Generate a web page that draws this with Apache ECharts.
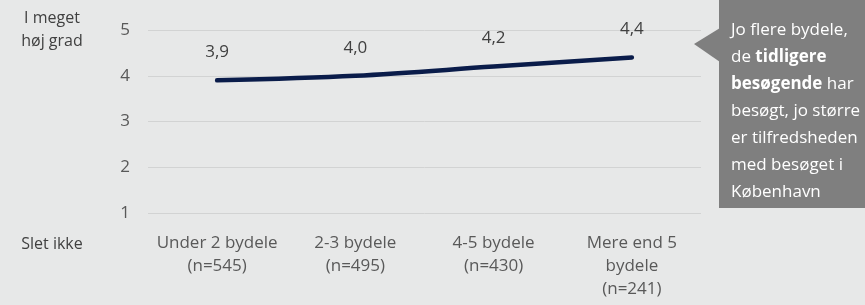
<!DOCTYPE html>
<html><head><meta charset="utf-8">
<script src="https://cdn.jsdelivr.net/npm/echarts@6/dist/echarts.min.js"></script>
<style>html,body{margin:0;padding:0;background:#e7e8e8;}#c{width:865px;height:305px;}</style>
</head><body><div id="c"></div>
<script>
const categories = ['Under 2 bydele\n(n=545)', '2-3 bydele\n(n=495)', '4-5 bydele\n(n=430)', 'Mere end 5\nbydele\n(n=241)'];
const values = [3.9, 4.0, 4.2, 4.4];
const yTicks = [1, 2, 3, 4, 5];
const topLabel = 'I meget\nhøj grad';
const bottomLabel = 'Slet ikke';
const FONT = '"Open Sans", sans-serif';
const chart = echarts.init(document.getElementById('c'));
chart.setOption({
  backgroundColor: '#e7e8e8',
  animation: false,
  grid: {left: 148, right: 164, top: 30, bottom: 92},
  xAxis: {
    type: 'category', data: categories, boundaryGap: true,
    axisLine: {show: false}, axisTick: {show: false},
    axisLabel: {color: '#595959', fontSize: 17, lineHeight: 23, margin: 19, fontFamily: FONT, interval: 0}
  },
  yAxis: {
    type: 'value', min: yTicks[0], max: yTicks[yTicks.length - 1], interval: 1,
    axisLine: {show: false}, axisTick: {show: false},
    axisLabel: {color: '#595959', fontSize: 17, margin: 18, fontFamily: FONT},
    splitLine: {lineStyle: {color: '#d2d3d3', width: 1}}
  },
  series: [{
    type: 'line', data: values, smooth: 0.35, symbol: 'circle', symbolSize: 1, showSymbol: true,
    itemStyle: {color: 'rgba(0,0,0,0)'},
    lineStyle: {color: '#0a1c4a', width: 4.5, cap: 'round'},
    label: {show: true, position: 'top', distance: 19, color: '#404040', fontSize: 17, fontFamily: FONT,
      formatter: p => p.value.toFixed(1).replace('.', ',')}
  }],
  graphic: [
    {type: 'text', x: 52, y: 7, style: {text: topLabel, fill: '#404040', fontSize: 16, lineHeight: 23, fontFamily: FONT, align: 'center'}},
    {type: 'text', x: 52, y: 233, style: {text: bottomLabel, fill: '#404040', fontSize: 16, lineHeight: 23, fontFamily: FONT, align: 'center'}},
    {type: 'polygon', shape: {points: [[694, 44], [720, 28], [720, 62]]}, style: {fill: '#7f7f7f'}},
    {type: 'rect', shape: {x: 719, y: 0, width: 146, height: 208}, style: {fill: '#7f7f7f'}},
    {type: 'text', x: 731, y: 17, style: {
      text: 'Jo flere bydele,\nde {b|tidligere}\n{b|besøgende} har\nbesøgt, jo større\ner tilfredsheden\nmed besøget i\nKøbenhavn',
      fill: '#ffffff', fontSize: 17, lineHeight: 27, fontFamily: FONT,
      rich: {b: {fontWeight: 'bold', fill: '#ffffff', fontSize: 17, lineHeight: 27, fontFamily: FONT}}
    }}
  ]
});
</script></body></html>
